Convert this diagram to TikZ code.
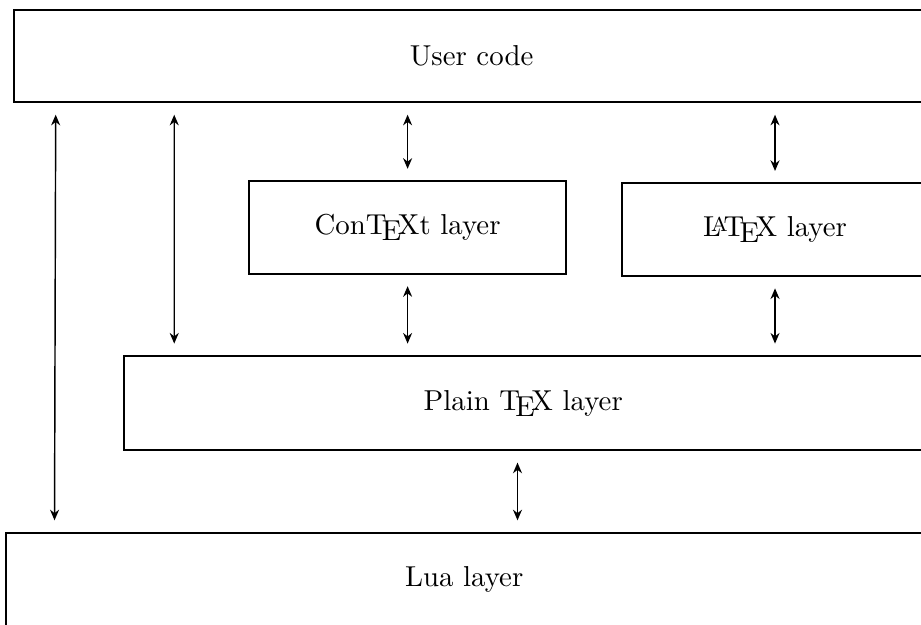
\documentclass[tikz,border=0pt]{standalone}
\usepackage{amsmath}
\usetikzlibrary{calc}
\usetikzlibrary{arrows.meta}
\tikzset{layer/.style={draw, line width=0.6pt, minimum height=1.13cm, inner sep=0pt},
         link/.style={line width=0.5pt, {Stealth[length=1.3mm,width=1.1mm]}-{Stealth[length=1.3mm,width=1.1mm]},
                      shorten <=0.14cm, shorten >=0.14cm}}
\begin{document}
\begin{tikzpicture}
    \useasboundingbox (0,0) rectangle (11.23,-7.61);
    \node [layer, minimum width=11.16cm] (user) at (5.75,-0.683) {User code};
    \node [layer, minimum width=3.87cm] (context) at (4.97,-2.774) {Con\TeX t layer};
    \node [layer, minimum width=3.73cm] (latex) at (9.45,-2.80) {\LaTeX{} layer};
    \node [layer, minimum width=9.73cm, minimum height=1.15cm] (plain) at (6.38,-4.915) {Plain \TeX{} layer};
    \node [layer, minimum width=11.17cm, minimum height=1.15cm] (lua) at (5.66,-7.07) {Lua layer};
    \draw [link] ([xshift=0.52cm]user.south west) -- ([xshift=0.6cm]lua.north west);
    \draw [link] (user.south -| {$(plain.north west)+(0.62,0)$}) -- ([xshift=0.62cm]plain.north west);
    \draw [link] (user.south -| context.north) -- (context.north);
    \draw [link] (user.south -| latex.north) -- (latex.north);
    \draw [link] (context.south) -- (plain.north -| context.south);
    \draw [link] (latex.south) -- (plain.north -| latex.south);
    \draw [link] ([xshift=-0.07cm]plain.south) -- (lua.north -| {$(plain.south)+(-0.07,0)$});
\end{tikzpicture}
\end{document}
